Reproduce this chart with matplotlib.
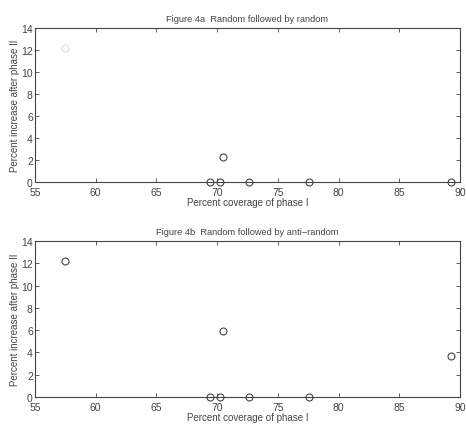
import numpy as np
import matplotlib
matplotlib.use('Agg')
from matplotlib import pyplot as plt

# Figure 4a: random followed by random
cov_a = [57.5, 70.5, 69.4, 70.2, 72.6, 77.6, 89.3]
inc_a = [12.2, 2.3, 0.0, 0.0, 0.0, 0.0, 0.0]

# Figure 4b: random followed by anti-random
cov_b = [57.5, 70.5, 69.4, 70.2, 72.6, 77.6, 89.3]
inc_b = [12.2, 5.9, 0.0, 0.0, 0.0, 0.0, 3.7]

titles = ['Figure 4a  Random followed by random',
          'Figure 4b  Random followed by anti\u2212random']

ink = '#444444'
plt.rcParams['font.family'] = 'Liberation Sans'

fig = plt.figure(figsize=(4.66, 4.27), dpi=100)
ax1 = fig.add_axes([0.075, 0.571, 0.912, 0.361])
ax2 = fig.add_axes([0.075, 0.068, 0.912, 0.365])

for ax, x, y, t in [(ax1, cov_a, inc_a, titles[0]), (ax2, cov_b, inc_b, titles[1])]:
    # the 57.5% point is barely visible in the scanned 4a panel
    alpha = 0.2 if ax is ax1 else 1.0
    ax.plot(x[:1], y[:1], 'o', markerfacecolor='none', markeredgecolor=ink,
            markersize=5, markeredgewidth=0.8, alpha=alpha)
    ax.plot(x[1:], y[1:], 'o', markerfacecolor='none', markeredgecolor=ink,
            markersize=5, markeredgewidth=0.8, clip_on=False)
    ax.set_xlim(55, 90)
    ax.set_ylim(0, 14)
    ax.set_xticks(np.arange(55, 91, 5))
    ax.set_yticks(np.arange(0, 15, 2))
    ax.tick_params(direction='in', top=True, right=True, length=3,
                   width=0.6, colors=ink, labelsize=7.5, pad=1.5)
    ax.tick_params(axis='x', pad=3.5)
    for s in ax.spines.values():
        s.set_color(ink)
        s.set_linewidth(0.8)
    ax.set_title(t, fontsize=6.7, color=ink, pad=5)
    ax.set_xlabel('Percent coverage of phase I', fontsize=7, color=ink, labelpad=0)
    ax.set_ylabel('Percent increase after phase II', fontsize=7, color=ink, labelpad=1)

plt.savefig('out.png', dpi=100)
